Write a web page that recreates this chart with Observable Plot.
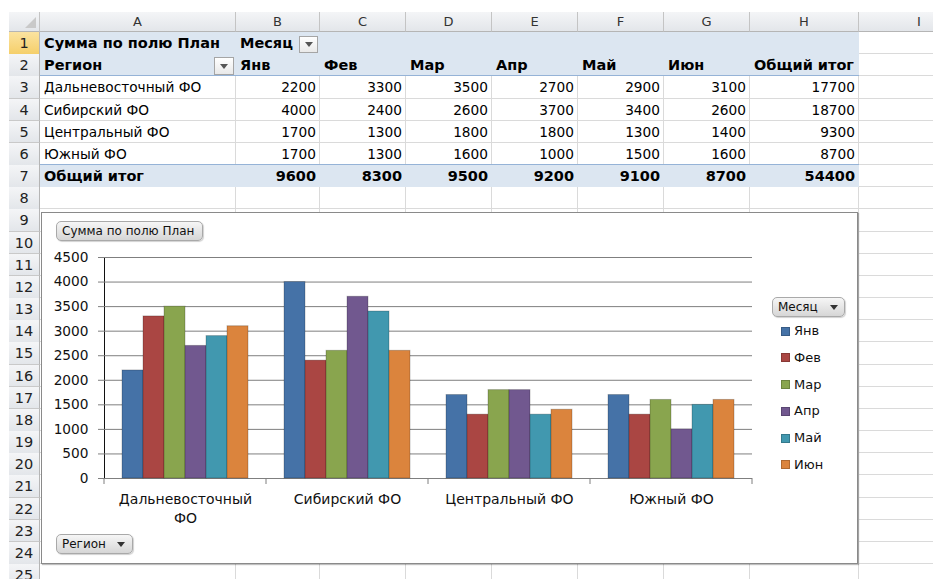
<!DOCTYPE html>
<html><head><meta charset="utf-8">
<script src="https://cdn.jsdelivr.net/npm/d3@7"></script>
<script src="https://cdn.jsdelivr.net/npm/@observablehq/plot@0.6"></script>
<style>
html,body{margin:0;padding:0;background:#fff}
body{width:933px;height:579px;overflow:hidden;position:relative;font-family:"DejaVu Sans",sans-serif}
.a{position:absolute;box-sizing:border-box;white-space:nowrap}
.hdr{background:linear-gradient(#f4f5f7,#e3e6ea);color:#333;font-size:13px;text-align:center}
.cell{font-size:13.7px;color:#000;display:flex;align-items:center;padding:0 4px}
.btn{position:absolute;box-sizing:border-box;border:1px solid #a9a9a9;border-radius:5px;background:linear-gradient(#f6f6f6,#d6d6d6);box-shadow:1px 1px 1px rgba(0,0,0,0.18);font-size:12px;color:#111;display:flex;align-items:center;padding-left:5px}
.tri{display:inline-block;width:0;height:0;border-left:4px solid transparent;border-right:4px solid transparent;border-top:5px solid #333}
.dd{position:absolute;box-sizing:border-box;border:1px solid #a5a5a5;background:linear-gradient(#fff,#e9e9e9);display:flex;align-items:center;justify-content:center}
</style></head>
<body>
<div id="sheet"></div>
<script>
// ---------- data ----------
const regions = ["Дальневосточный ФО", "Сибирский ФО", "Центральный ФО", "Южный ФО"];
const months = ["Янв", "Фев", "Мар", "Апр", "Май", "Июн"];
const farEast = [2200, 3300, 3500, 2700, 2900, 3100];
const siberia = [4000, 2400, 2600, 3700, 3400, 2600];
const central = [1700, 1300, 1800, 1800, 1300, 1400];
const south   = [1700, 1300, 1600, 1000, 1500, 1600];
const rowTotals = [17700, 18700, 9300, 8700];
const colTotals = [9600, 8300, 9500, 9200, 9100, 8700];
const grandTotal = 54400;
const colLetters = ["A", "B", "C", "D", "E", "F", "G", "H", "I"];
const yTicks = [0, 500, 1000, 1500, 2000, 2500, 3000, 3500, 4000, 4500];
const monthColors = ["#4572A7", "#AA4643", "#89A54E", "#71588F", "#4198AF", "#DB843D"];
const series = [farEast, siberia, central, south];

// ---------- spreadsheet ----------
const sheet = document.getElementById("sheet");
const colEdges = [40, 236, 320, 406, 492, 578, 664, 750, 859, 980];
const RH = 22.17;
const rowTop = r => 32 + (r - 1) * RH;
function div(cls, style, html) {
  const d = document.createElement("div");
  d.className = cls;
  Object.assign(d.style, style);
  if (html !== undefined) d.innerHTML = html;
  sheet.appendChild(d);
  return d;
}
const px = v => v + "px";
// grid lines
for (let r = 1; r <= 25; r++) {
  div("a", {left: px(40), top: px(rowTop(r + 1) - 1), width: px(900), height: "1px", background: "#dadada"});
}
for (let i = 1; i < colEdges.length - 1; i++) {
  div("a", {left: px(colEdges[i] - 1), top: px(32), width: "1px", height: px(560), background: "#dadada"});
}
// pivot fills
div("a", {left: px(40), top: px(rowTop(1)), width: px(859 - 40), height: px(rowTop(3) - rowTop(1)), background: "#dce6f1", borderBottom: "1px solid #95b3d7"});
div("a", {left: px(40), top: px(rowTop(7) - 1), width: px(859 - 40), height: px(RH + 1), background: "#dce6f1", borderTop: "1px solid #95b3d7"});
// column headers
div("a hdr", {left: px(9), top: px(12), width: px(31), height: px(20), borderRight: "1px solid #c4c4c4", borderBottom: "1px solid #b5b5b5"},
  '<div style="position:absolute;right:3px;bottom:3px;width:0;height:0;border-left:11px solid transparent;border-bottom:11px solid #c9c9c9"></div>');
colLetters.forEach((c, i) => {
  div("a hdr", {left: px(colEdges[i]), top: px(12), width: px(colEdges[i + 1] - colEdges[i]), height: px(20), lineHeight: "19px",
    borderRight: "1px solid #c4c4c4", borderBottom: "1px solid #b5b5b5"}, c);
});
// row headers
for (let r = 1; r <= 25; r++) {
  div("a hdr", {left: px(9), top: px(rowTop(r)), width: px(31), height: px(RH + 0.5), lineHeight: px(RH), fontSize: "14.5px",
    borderRight: "1px solid #b5b5b5", borderBottom: "1px solid #c9c9c9",
    background: r === 1 ? "linear-gradient(#fbe3a0,#f5cf6a)" : undefined, color: "#222"}, String(r));
}
// cell text
function cell(r, c, text, opts = {}) {
  div("a cell", {left: px(colEdges[c]), top: px(rowTop(r)), width: px(colEdges[c + 1] - colEdges[c]), height: px(RH),
    justifyContent: opts.right ? "flex-end" : "flex-start", fontWeight: opts.bold ? "bold" : "normal",
    fontSize: opts.bold ? "14.5px" : undefined}, text);
}
cell(1, 0, "Сумма по полю План", {bold: true});
cell(1, 1, "Месяц", {bold: true});
cell(2, 0, "Регион", {bold: true});
months.forEach((m, j) => cell(2, j + 1, m, {bold: true}));
cell(2, 7, "Общий итог", {bold: true});
regions.forEach((reg, i) => {
  cell(3 + i, 0, reg);
  series[i].forEach((v, j) => cell(3 + i, j + 1, String(v), {right: true}));
  cell(3 + i, 7, String(rowTotals[i]), {right: true});
});
cell(7, 0, "Общий итог", {bold: true});
colTotals.forEach((v, j) => cell(7, j + 1, String(v), {right: true, bold: true}));
cell(7, 7, String(grandTotal), {right: true, bold: true});
// dropdowns in pivot
div("dd", {left: px(299), top: px(36), width: px(19), height: px(17)}, '<span class="tri" style="border-top-color:#555"></span>');
div("dd", {left: px(214), top: px(57), width: px(20), height: px(18)}, '<span class="tri" style="border-top-color:#555"></span>');

// ---------- chart box ----------
div("a", {left: px(41), top: px(212), width: px(817), height: px(352), background: "#fff", border: "1px solid #8a8a8a", boxShadow: "1px 1px 1px rgba(0,0,0,0.25)"});

const data = regions.flatMap((reg, i) => months.map((m, j) => ({region: reg, month: m, value: series[i][j]})));
const plot = Plot.plot({
  width: 816,
  height: 351,
  marginLeft: 63,
  marginRight: 105,
  marginTop: 45,
  marginBottom: 85,
  style: {fontFamily: "DejaVu Sans", fontSize: "13.7px", color: "#111", background: "transparent", overflow: "visible"},
  fx: {domain: regions, padding: 0, axis: null, label: null},
  x: {domain: months, paddingInner: 0, paddingOuter: 0.74, axis: null, label: null},
  y: {domain: [0, 4500], ticks: yTicks, tickFormat: d => String(d), tickSize: 6, tickPadding: 10, line: true, label: null},
  color: {domain: months, range: monthColors},
  marks: [
    Plot.ruleY(yTicks, {stroke: "#7f7f7f", strokeWidth: 1}),
    Plot.barY(data, {fx: "region", x: "month", y: "value", fill: "month", stroke: "#000", strokeOpacity: 0.22, strokeWidth: 1}),
    Plot.text(regions, {fx: d => d, text: d => d.length > 15 ? d.replace(" ФО", "\nФО") : d,
      frameAnchor: "bottom", lineAnchor: "top", dy: 13, lineHeight: 1.3, fill: "#111", fontSize: 14})
  ]
});
plot.style.position = "absolute";
plot.style.left = "41px";
plot.style.top = "212px";
sheet.appendChild(plot);

// category boundary tick marks, positioned with the plot's own scales
const fxS = plot.scale("fx");
const yS = plot.scale("y");
const y0 = yS.apply(0);
const edges = regions.map(r => fxS.apply(r));
edges.push(fxS.apply(regions[regions.length - 1]) + fxS.bandwidth);
const svg = d3.select(plot);
svg.append("g").attr("stroke", "#7f7f7f").selectAll("line").data(edges).join("line")
  .attr("x1", d => d).attr("x2", d => d).attr("y1", y0).attr("y2", y0 + 6);
svg.selectAll("[aria-label='y-axis'] line, [aria-label='y-axis'] path, [aria-label='y-axis tick'] path, [aria-label='y-axis tick'] line").attr("stroke", "#7f7f7f");

// ---------- buttons ----------
const b1 = document.createElement("div"); b1.className = "btn";
Object.assign(b1.style, {left: "56px", top: "221px", width: "147px", height: "20px"}); b1.textContent = "Сумма по полю План";
sheet.appendChild(b1);
const b2 = document.createElement("div"); b2.className = "btn";
Object.assign(b2.style, {left: "56px", top: "534px", width: "77px", height: "20px"});
b2.innerHTML = 'Регион<span class="tri" style="margin-left:11px"></span>';
sheet.appendChild(b2);
const b3 = document.createElement("div"); b3.className = "btn";
Object.assign(b3.style, {left: "772px", top: "297px", width: "73px", height: "20px"});
b3.innerHTML = 'Месяц<span class="tri" style="margin-left:12px"></span>';
sheet.appendChild(b3);

// ---------- legend ----------
months.forEach((m, j) => {
  const cy = 331 + j * 26.75;
  div("a", {left: "781px", top: px(cy - 4.5), width: "9px", height: "9px", background: monthColors[j], boxShadow: "inset 0 0 0 1px rgba(0,0,0,0.2)"});
  div("a", {left: "794px", top: px(cy - 9), height: "18px", lineHeight: "18px", fontSize: "13px", color: "#111"}, m);
});
</script>
</body></html>
